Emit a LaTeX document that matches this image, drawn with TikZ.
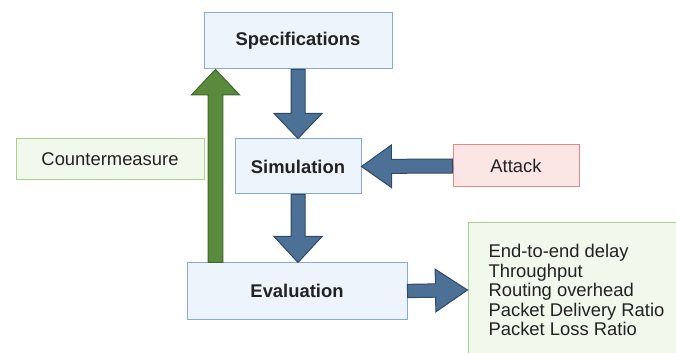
\documentclass[tikz,border=0pt]{standalone}
\usepackage{fontspec}
\setmainfont{Liberation Sans}
\usepackage{tikz}
\usetikzlibrary{calc,positioning}
\definecolor{boxfill}{HTML}{EEF4FC}
\definecolor{boxline}{HTML}{86ABD9}
\definecolor{arrfill}{HTML}{4D7196}
\definecolor{arrline}{HTML}{2E4A66}
\definecolor{grfill}{HTML}{5A8A3C}
\definecolor{grline}{HTML}{3D6526}
\definecolor{gboxfill}{HTML}{F1F8EC}
\definecolor{gboxline}{HTML}{A8D18D}
\definecolor{rboxfill}{HTML}{FCE5E5}
\definecolor{rboxline}{HTML}{E08A8A}
\definecolor{txt}{HTML}{222222}
\tikzset{basic/.style={draw,rectangle,line width=0.75pt,text=txt,
                       font=\fontsize{13.8}{14.6}\selectfont,inner sep=0pt}}
\tikzset{stage/.style={basic,fill=boxfill,draw=boxline,font=\fontsize{13.8}{14.6}\selectfont\bfseries}}
\tikzset{side/.style={basic,fill=gboxfill,draw=gboxline}}
\tikzset{threat/.style={basic,fill=rboxfill,draw=rboxline}}
\tikzset{bluearrow/.style={fill=arrfill,draw=arrline,line width=0.75pt,line join=miter}}
\tikzset{greenarrow/.style={fill=grfill,draw=grline,line width=0.75pt,line join=miter}}
% block arrow: style, from, to, shaft half width, head half width, head length
\newcommand{\blockarrow}[6]{%
  \path (#3) coordinate (tip) ($(#3)!#6!(#2)$) coordinate (hb);
  \draw[#1] ($(#2)!#4!90:(tip)$) -- ($(hb)!#4!90:(tip)$) -- ($(hb)!#5!90:(tip)$)
     -- (tip) -- ($(hb)!#5!-90:(tip)$) -- ($(hb)!#4!-90:(tip)$)
     -- ($(#2)!#4!-90:(tip)$) -- cycle;}

\begin{document}
\begin{tikzpicture}[x=0.75pt,y=-0.75pt]
    \useasboundingbox (0,0) rectangle (676,353);
    \clip (0,0) rectangle (676,353);
    % Draw the three stages
    \node[stage, minimum width=141pt, minimum height=42pt] (spec) at (298,41) {Specifications};
    \node[stage, minimum width=94.5pt, minimum height=41.25pt] (sim) at (298,166.5) {Simulation};
    \node[stage, minimum width=165pt, minimum height=42pt] (eval) at (297,291) {Evaluation};
    % Side boxes
    \node[side, minimum width=141pt, minimum height=30.75pt] (counter) at (110,159.5) {Countermeasure};
    \node[threat, minimum width=94.5pt, minimum height=31.5pt] (attack) at (516,166) {Attack};
    \node[side, minimum width=162.75pt, minimum height=100.5pt, align=left] (metrics) at (576.5,290)
        {End-to-end delay\\Throughput\\Routing overhead\\Packet Delivery Ratio\\Packet Loss Ratio};
    % Flow arrows between stages
    \blockarrow{bluearrow}{spec.south}{sim.north}{5.25pt}{18pt}{18.75pt}
    \blockarrow{bluearrow}{sim.south}{sim.south |- eval.north}{5.25pt}{18pt}{19.5pt}
    \blockarrow{bluearrow}{attack.west}{sim.east}{5.25pt}{16pt}{22.5pt}
    \blockarrow{bluearrow}{eval.east}{metrics.west}{5pt}{16pt}{24pt}
    % Feedback arrow back to the specifications
    \coordinate (fb) at ([xshift=21.75pt]eval.north west);
    \blockarrow{greenarrow}{fb}{fb |- spec.south}{5.5pt}{18pt}{19pt}
\end{tikzpicture}
\end{document}
